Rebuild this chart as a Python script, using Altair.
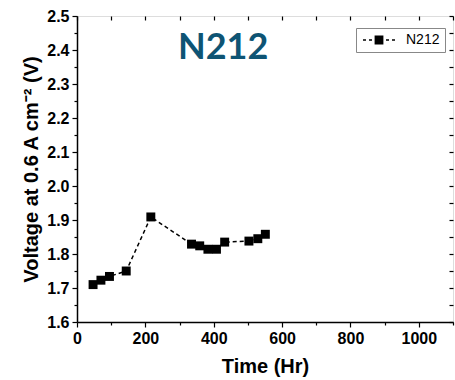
import altair as alt
import pandas as pd

# ---- data ----
time_hr = [47, 70, 95, 144, 216, 335, 359, 383, 408, 432, 503, 529, 551]
voltage = [1.710, 1.723, 1.734, 1.750, 1.909, 1.829, 1.824, 1.814, 1.814, 1.835, 1.838, 1.845, 1.858]
series = ["N212"] * len(time_hr)
x_ticks = list(range(0, 1101, 100))
y_ticks = [round(1.6 + 0.05 * i, 2) for i in range(19)]

df = pd.DataFrame({"t": time_hr, "v": voltage, "s": series})

FONT = "Liberation Sans"
xs = alt.Scale(domain=[0, 1100], nice=False)
ys = alt.Scale(domain=[1.6, 2.5], nice=False, zero=False)

major_x = "datum.value % 200 === 0"
major_y = "abs(round(datum.value * 100) % 10) < 0.5"

x_bottom = alt.Axis(
    orient="bottom", values=x_ticks, title="Time (Hr)",
    labelExpr=f"({major_x}) ? format(datum.value, 'd') : ''",
    tickSize={"condition": {"test": major_x, "value": 5}, "value": 3},
    labelOverlap=False, labelFlush=False, grid=False,
    labelFont=FONT, labelFontSize=16, labelFontWeight="bold", labelColor="black",
    labelPadding=3,
    titleFont=FONT, titleFontSize=20, titleFontWeight="bold", titleColor="black",
    titlePadding=10,
    domainColor="black", domainWidth=1.5, tickColor="black", tickWidth=1.2,
)
y_left = alt.Axis(
    orient="left", values=y_ticks, title="Voltage at 0.6 A cm⁻² (V)",
    labelExpr=f"({major_y}) ? format(datum.value, '.1f') : ''",
    tickSize={"condition": {"test": major_y, "value": 5}, "value": 3},
    labelOverlap=False, labelFlush=False, grid=False,
    labelFont=FONT, labelFontSize=16, labelFontWeight="bold", labelColor="black",
    labelPadding=3,
    titleFont=FONT, titleFontSize=20, titleFontWeight="bold", titleColor="black",
    titlePadding=5,
    domainColor="black", domainWidth=1.5, tickColor="black", tickWidth=1.2,
)
x_top = alt.Axis(
    orient="top", values=x_ticks, title=None, labels=False, domain=False,
    tickSize=4, offset=-4, grid=False, tickColor="black", tickWidth=1.2,
)
y_right = alt.Axis(
    orient="right", values=y_ticks, title=None, labels=False, domain=False,
    tickSize=4, offset=-4, grid=False, tickColor="black", tickWidth=1.2,
)

legend_path = ("M-4,-0.19H-3.25V0.19H-4Z M-2.5,-0.19H-1.75V0.19H-2.5Z "
               "M-1.1,-1.1H1.1V1.1H-1.1Z M1.75,-0.19H2.5V0.19H1.75Z "
               "M3.25,-0.19H4V0.19H3.25Z")

line = alt.Chart(df).mark_line(
    color="black", strokeDash=[4, 3], strokeWidth=1.5
).encode(
    x=alt.X("t:Q", scale=xs, axis=x_top),
    y=alt.Y("v:Q", scale=ys, axis=y_right),
)

points = alt.Chart(df).mark_point(
    shape="square", filled=True, size=80, opacity=1
).encode(
    x=alt.X("t:Q", scale=xs, axis=x_bottom),
    y=alt.Y("v:Q", scale=ys, axis=y_left),
    color=alt.Color(
        "s:N", scale=alt.Scale(range=["black"]),
        legend=alt.Legend(
            title=None, orient="none", legendX=279, legendY=12,
            symbolType=legend_path, symbolSize=64, symbolOffset=11,
            symbolStrokeWidth=0, symbolFillColor="black",
            labelOffset=20, labelFont=FONT, labelFontSize=14, labelColor="black",
            padding=5, strokeColor="#888888", fillColor="white",
        ),
    ),
)

chart = alt.layer(line, points).resolve_axis(
    x="independent", y="independent"
).properties(
    width=376, height=306,
    autosize=alt.AutoSizeParams(type="none"),
    padding={"left": 77, "top": 16, "right": 2, "bottom": 58},
    title=alt.TitleParams(
        "N212", anchor="start", frame="group", orient="top",
        dx=101, dy=87, offset=0, baseline="alphabetic",
        font="Lato", fontSize=36, fontWeight="bold", color="#0e5474",
    ),
).configure_view(
    stroke="black", strokeWidth=1.5
).configure(background="white")

chart.save("out.html", embed_options={"renderer": "svg", "actions": False})
